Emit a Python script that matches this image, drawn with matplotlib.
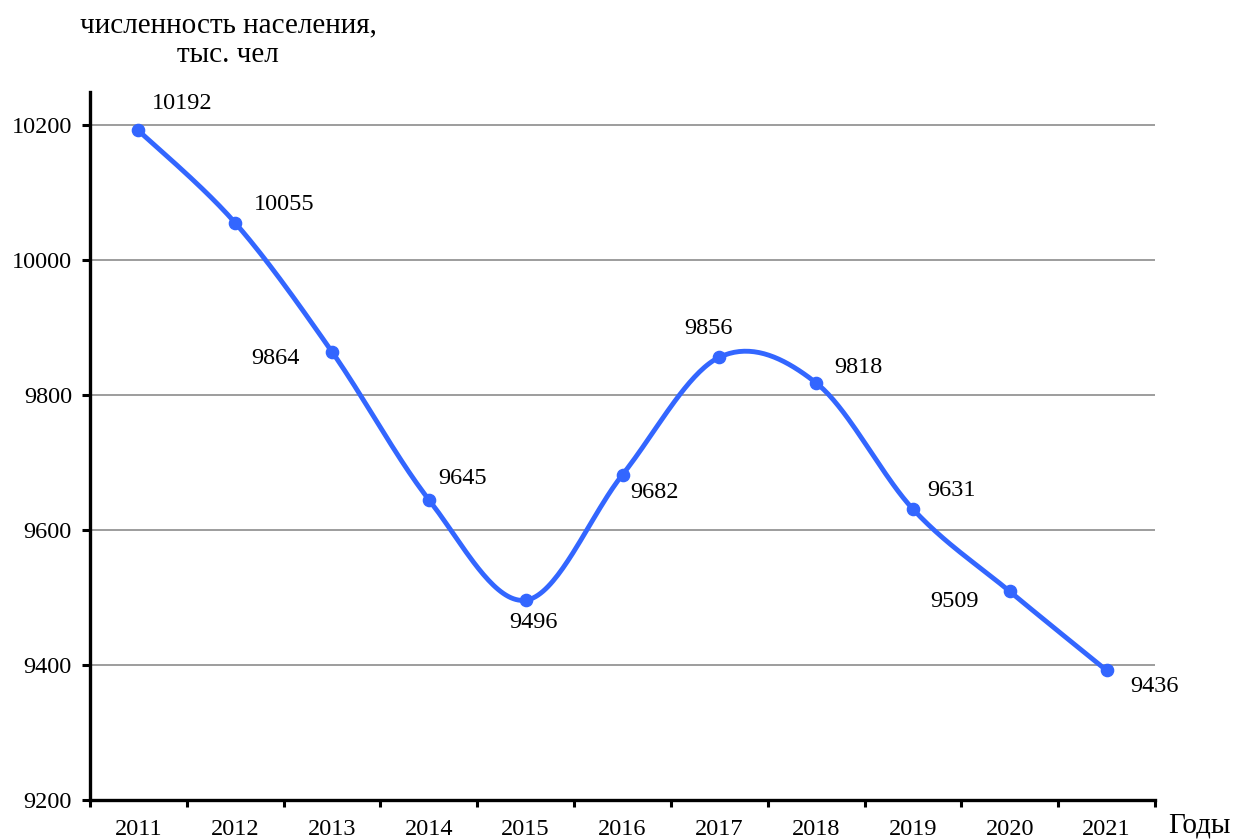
import numpy as np
import matplotlib
matplotlib.use("Agg")
import matplotlib.pyplot as plt

plt.rcParams['font.family'] = ['Liberation Serif', 'DejaVu Serif']

years = ['2011', '2012', '2013', '2014', '2015', '2016', '2017', '2018', '2019', '2020', '2021']
values = [10192, 10055, 9864, 9645, 9496, 9682, 9856, 9818, 9631, 9509, 9392]
data_labels = ['10192', '10055', '9864', '9645', '9496', '9682', '9856', '9818', '9631', '9509', '9436']
yticks = [9200, 9400, 9600, 9800, 10000, 10200]
label_offsets = [(44, 27), (49, 18), (-57, -7), (34, 21), (8, -22), (32, -18),
                 (-11, 29), (42, 15), (39, 19), (-55, -10), (48, -16)]

W, H = 1234, 839
fig = plt.figure(figsize=(W / 100, H / 100), dpi=100)
ax = fig.add_axes([90 / W, 1 - 800 / H, (1155 - 90) / W, (800 - 92) / H])

x = np.arange(len(values))
y = np.array(values, dtype=float)

# Excel-like smoothed line (Catmull-Rom cubic Bezier)
n = len(x)
xs, ys = [], []
for i in range(n - 1):
    p0 = np.array([x[max(i - 1, 0)], y[max(i - 1, 0)]])
    p1 = np.array([x[i], y[i]])
    p2 = np.array([x[i + 1], y[i + 1]])
    p3 = np.array([x[min(i + 2, n - 1)], y[min(i + 2, n - 1)]])
    c1 = p1 + (p2 - p0) / 6
    c2 = p2 - (p3 - p1) / 6
    t = np.linspace(0, 1, 40)[:, None]
    pts = (1 - t) ** 3 * p1 + 3 * (1 - t) ** 2 * t * c1 + 3 * (1 - t) * t ** 2 * c2 + t ** 3 * p2
    xs.extend(pts[:, 0]); ys.extend(pts[:, 1])

color = '#3366FF'
ax.plot(xs, ys, color=color, lw=3.5, solid_capstyle='round', zorder=3)
ax.plot(x, y, 'o', color=color, ms=8.8, zorder=4)

for xi, yi, lab, off in zip(x, y, data_labels, label_offsets):
    ax.annotate(lab, (xi, yi), xytext=off, textcoords='offset pixels',
                ha='center', va='center', fontsize=17.5, zorder=5)

ax.set_xlim(-0.5, len(values) - 0.5)
ax.set_ylim(9200, 10249)

ax.set_yticks(yticks)
ax.set_yticklabels([str(v) for v in yticks], fontsize=17.5)
ax.set_xticks(np.arange(-0.5, len(values)))
ax.set_xticklabels([])
ax.set_xticks(x, minor=True)
ax.set_xticklabels(years, minor=True, fontsize=17.5)
ax.tick_params(axis='x', which='major', length=5, width=2.2, direction='out')
ax.tick_params(axis='x', which='minor', length=0, pad=14)
ax.tick_params(axis='y', length=6, width=2.2, direction='out', pad=7)

for yt in yticks[1:]:
    ax.axhline(yt, color='#8c8c8c', lw=1.2, zorder=1)

for s in ['top', 'right']:
    ax.spines[s].set_visible(False)
for s in ['left', 'bottom']:
    ax.spines[s].set_linewidth(2.4)
    ax.spines[s].set_color('black')

fig.text(228 / W, 1 - 25 / H, 'численность населения,', ha='center', va='center', fontsize=21)
fig.text(228 / W, 1 - 55 / H, 'тыс. чел', ha='center', va='center', fontsize=21)
fig.text(1199 / W, 1 - 826 / H, 'Годы', ha='center', va='center', fontsize=21)

fig.savefig('out.png', dpi=100)
